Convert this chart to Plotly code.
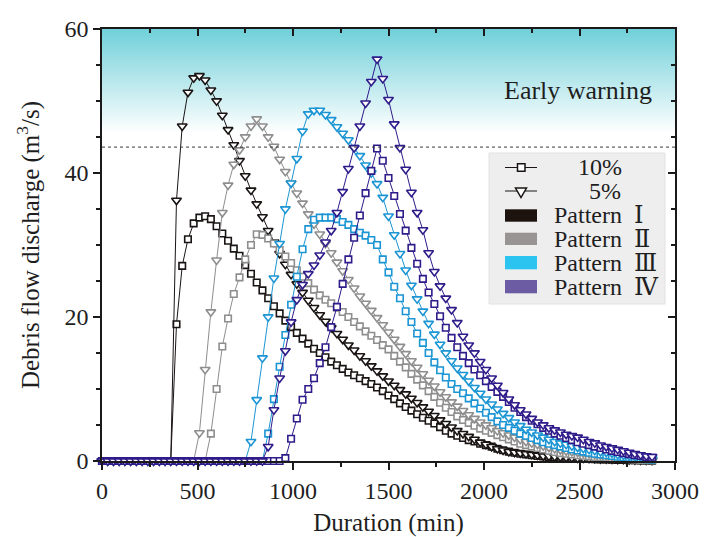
import plotly.graph_objects as go

# ---------------- data ----------------
duration_min = [0, 30, 60, 90, 120, 150, 180, 210, 240, 270, 300, 330, 360, 390, 420, 450, 480, 510, 540, 570,
                600, 630, 660, 690, 720, 750, 780, 810, 840, 870, 900, 930, 960, 990, 1020, 1050, 1080, 1110,
                1140, 1170, 1200, 1230, 1260, 1290, 1320, 1350, 1380, 1410, 1440, 1470, 1500, 1530, 1560, 1590,
                1620, 1650, 1680, 1710, 1740, 1770, 1800, 1830, 1860, 1890, 1920, 1950, 1980, 2010, 2040, 2070,
                2100, 2130, 2160, 2190, 2220, 2250, 2280, 2310, 2340, 2370, 2400, 2430, 2460, 2490, 2520, 2550,
                2580, 2610, 2640, 2670, 2700, 2730, 2760, 2790, 2820, 2850, 2880]

p1_10 = [0, 0, 0, 0, 0, 0, 0, 0, 0, 0, 0, 0, 0,
         19.0, 27.1, 30.8, 33.0, 33.8, 34.0, 33.6, 32.6, 31.6, 30.6, 29.5, 28.5, 27.2, 26.0, 24.8, 23.7,
         22.6, 21.5, 20.5, 19.5, 18.6, 17.8, 17.0, 16.3, 15.6, 15.0, 14.4, 13.8, 13.3, 12.8, 12.3, 11.9,
         11.5, 11.1, 10.7, 10.2, 9.7, 9.1, 8.6, 8.0, 7.5, 7.0, 6.5, 6.0, 5.6, 5.2, 4.7, 4.2, 3.8, 3.5, 3.2,
         2.9, 2.7, 2.4, 2.2, 2.0, 1.7, 1.5, 1.3, 1.15, 1.0, 0.9, 0.8, 0.7, 0.62, 0.55, 0.5, 0.45, 0.4, 0.36,
         0.33, 0.3, 0.27, 0.25, 0.22, 0.2, 0.18, 0.16, 0.14, 0.12, 0.1, 0.08, 0.06, 0.05]
p1_5 = [0, 0, 0, 0, 0, 0, 0, 0, 0, 0, 0, 0, 0,
        36.2, 46.5, 51.2, 53.2, 53.5, 52.9, 51.5, 50.0, 48.0, 46.0, 43.9, 41.7, 39.6, 37.6, 35.7, 33.9,
        32.0, 30.4, 28.8, 27.3, 25.9, 24.6, 23.4, 22.3, 21.3, 20.3, 19.4, 18.5, 17.7, 16.9, 16.1, 15.4,
        14.6, 13.9, 13.2, 12.5, 11.8, 11.1, 10.5, 9.9, 9.3, 8.7, 8.1, 7.5, 6.9, 6.3, 5.7, 5.2, 4.7, 4.2,
        3.8, 3.4, 3.0, 2.6, 2.3, 2.0, 1.7, 1.5, 1.3, 1.2, 1.1, 1.0, 0.9, 0.8, 0.7, 0.65, 0.6, 0.55, 0.5,
        0.45, 0.4, 0.38, 0.35, 0.32, 0.3, 0.27, 0.25, 0.22, 0.2, 0.18, 0.15, 0.12, 0.1, 0.08]
p2_10 = [0, 0, 0, 0, 0, 0, 0, 0, 0, 0, 0, 0, 0, 0, 0, 0, 0, 0, 0,
         3.8, 10.0, 15.9, 19.8, 23.2, 25.5, 28.0, 30.0, 31.5, 31.4, 30.9, 30.2, 29.3, 28.4, 27.5, 26.5,
         25.6, 24.7, 23.8, 23.0, 22.4, 21.9, 21.3, 20.7, 20.0, 19.3, 18.7, 18.0, 17.4, 16.8, 16.1, 15.5,
         14.6, 13.8, 13.0, 12.1, 11.3, 10.5, 9.7, 8.9, 8.1, 7.4, 6.8, 6.2, 5.7, 5.3, 4.9, 4.5, 4.2, 3.9,
         3.6, 3.3, 3.0, 2.7, 2.4, 2.2, 2.0, 1.8, 1.6, 1.4, 1.25, 1.1, 1.0, 0.9, 0.8, 0.72, 0.64, 0.56, 0.5,
         0.44, 0.38, 0.33, 0.28, 0.24, 0.2, 0.16, 0.13, 0.1]
p2_5 = [0, 0, 0, 0, 0, 0, 0, 0, 0, 0, 0, 0, 0, 0, 0, 0, 0,
        3.9, 12.7, 20.7, 27.9, 34.5, 38.3, 41.2, 43.2, 45.0, 46.5, 47.5, 46.5, 45.0, 43.7, 41.9, 40.2,
        38.6, 37.2, 35.8, 34.3, 32.9, 31.5, 30.2, 28.9, 27.6, 26.4, 25.2, 24.0, 22.9, 21.9, 20.9, 19.9,
        18.9, 17.9, 16.9, 15.9, 14.9, 13.9, 13.0, 12.1, 11.2, 10.4, 9.6, 8.9, 8.2, 7.6, 7.0, 6.4, 5.9, 5.4,
        5.0, 4.6, 4.2, 3.9, 3.6, 3.3, 3.0, 2.7, 2.5, 2.3, 2.1, 1.9, 1.7, 1.55, 1.4, 1.3, 1.2, 1.1, 1.0, 0.9,
        0.8, 0.7, 0.6, 0.5, 0.45, 0.4, 0.35, 0.3, 0.25, 0.2]
p3_10 = [0, 0, 0, 0, 0, 0, 0, 0, 0, 0, 0, 0, 0, 0, 0, 0, 0, 0, 0, 0, 0, 0, 0, 0, 0, 0, 0, 0, 0,
         3.8, 8.6, 13.1, 17.5, 21.7, 25.6, 29.4, 32.2, 33.5, 33.8, 33.8, 33.8, 33.6, 33.2, 32.8, 32.2,
         31.7, 31.3, 30.7, 30.0, 28.0, 26.2, 24.2, 22.6, 20.8, 19.3, 17.7, 16.4, 15.0, 13.7, 12.6, 11.6,
         10.7, 10.0, 9.4, 8.7, 8.0, 7.3, 6.7, 6.1, 5.5, 5.0, 4.6, 4.2, 3.8, 3.5, 3.2, 2.9, 2.6, 2.4, 2.2,
         2.0, 1.8, 1.6, 1.45, 1.3, 1.15, 1.0, 0.9, 0.8, 0.7, 0.6, 0.5, 0.45, 0.4, 0.3, 0.25, 0.2]
p3_5 = [0, 0, 0, 0, 0, 0, 0, 0, 0, 0, 0, 0, 0, 0, 0, 0, 0, 0, 0, 0, 0, 0, 0, 0, 0, 0,
        2.7, 8.5, 14.3, 20.0, 25.4, 30.2, 35.0, 38.6, 42.0, 45.8, 48.2, 48.7, 48.7, 48.1, 47.4, 46.4,
        45.5, 44.6, 43.5, 42.4, 41.1, 40.0, 38.5, 36.6, 34.0, 31.4, 28.8, 26.5, 24.4, 22.5, 20.8, 19.1,
        17.6, 16.2, 15.0, 13.9, 12.9, 12.0, 11.1, 10.2, 9.4, 8.6, 7.9, 7.2, 6.6, 6.0, 5.4, 4.9, 4.4, 4.0,
        3.6, 3.3, 3.0, 2.7, 2.5, 2.3, 2.1, 1.9, 1.75, 1.6, 1.45, 1.3, 1.2, 1.1, 0.9, 0.8, 0.7, 0.6, 0.5,
        0.4, 0.3]
p4_10 = [0, 0, 0, 0, 0, 0, 0, 0, 0, 0, 0, 0, 0, 0, 0, 0, 0, 0, 0, 0, 0, 0, 0, 0, 0, 0, 0, 0, 0, 0, 0, 0,
         0.4, 3.1, 5.9, 8.5, 10.0, 11.5, 13.6, 15.8, 18.6, 21.4, 24.6, 28.0, 31.0, 34.1, 37.2, 40.3, 43.4,
         41.7, 39.3, 36.8, 34.3, 32.0, 29.6, 27.4, 25.3, 23.4, 21.8, 20.1, 18.5, 17.1, 15.8, 14.6, 13.6,
         12.7, 11.9, 11.1, 10.3, 9.6, 8.9, 8.2, 7.4, 6.8, 6.1, 5.6, 5.1, 4.6, 4.2, 3.8, 3.5, 3.2, 2.9, 2.6,
         2.4, 2.2, 2.0, 1.8, 1.6, 1.4, 1.25, 1.1, 0.95, 0.8, 0.7, 0.55, 0.45]
p4_5 = [0, 0, 0, 0, 0, 0, 0, 0, 0, 0, 0, 0, 0, 0, 0, 0, 0, 0, 0, 0, 0, 0, 0, 0, 0, 0, 0, 0, 0,
        2.0, 7.1, 11.5, 15.3, 19.3, 22.4, 24.5, 26.0, 27.2, 28.6, 30.4, 32.0, 34.5, 37.4, 40.6, 43.5,
        46.5, 49.7, 52.7, 55.8, 53.1, 50.2, 46.8, 43.5, 40.5, 37.3, 34.5, 32.1, 28.9, 26.3, 24.3, 22.6,
        21.0, 19.2, 17.3, 16.1, 15.0, 13.8, 12.7, 11.5, 10.5, 9.5, 8.6, 7.8, 7.1, 6.5, 5.9, 5.4, 5.0, 4.6,
        4.3, 4.0, 3.7, 3.5, 3.3, 3.0, 2.7, 2.5, 2.2, 2.0, 1.8, 1.6, 1.4, 1.2, 1.0, 0.85, 0.7, 0.6]

for arr in (p1_10, p1_5, p2_10, p2_5, p3_10, p3_5, p4_10, p4_5):
    assert len(arr) == len(duration_min), len(arr)

warning_level = 43.6
x_ticks = [0, 500, 1000, 1500, 2000, 2500, 3000]
y_ticks = [0, 20, 40, 60]
pattern_names = ["Pattern \u2160", "Pattern \u2161", "Pattern \u2162", "Pattern \u2163"]
freq_names = ["10%", "5%"]

# ---------------- styles ----------------
line_colors = ["#1a1414", "#8e8e8e", "#1b95d3", "#2f1b8a"]
swatch_colors = ["#1c130f", "#999494", "#2bc4f0", "#6c5ca4"]
FONT = "Liberation Serif, DejaVu Serif, serif"
TXT = "#1e1e1e"

fig = go.Figure()

# gradient "early warning" zone
fig.add_trace(go.Scatter(
    x=[0, 3000, 3000, 0, 0], y=[warning_level, warning_level, 60, 60, warning_level],
    mode="none", fill="toself",
    fillgradient=dict(type="vertical", start=warning_level, stop=60,
                      colorscale=[[0, "#ffffff"], [0.12, "#ffffff"], [1, "#70d0d9"]]),
    hoverinfo="skip", showlegend=False))

series = [(p1_10, p1_5), (p2_10, p2_5), (p3_10, p3_5), (p4_10, p4_5)]
for (s10, s5), col in zip(series, line_colors):
    fig.add_trace(go.Scatter(
        x=duration_min, y=s10, mode="lines+markers", cliponaxis=False, showlegend=False,
        line=dict(color=col, width=1),
        marker=dict(symbol="square", size=6.5, color="white", line=dict(color=col, width=1.6))))
    fig.add_trace(go.Scatter(
        x=duration_min, y=s5, mode="lines+markers", cliponaxis=False, showlegend=False,
        line=dict(color=col, width=1),
        marker=dict(symbol="triangle-down", size=8.5, color="white", line=dict(color=col, width=1.6))))

# dummy trace for the mirrored (top/right) axes
fig.add_trace(go.Scatter(x=[None], y=[None], xaxis="x2", yaxis="y2", showlegend=False, hoverinfo="skip"))

# ---------------- layout ----------------
L, R, T, B = 102, 675, 29, 461
W, H = 707, 537


def px(x):
    return (x - L) / (R - L)


def py(y):
    return (B - y) / (B - T)


axis_common = dict(showline=True, linecolor="#1a1a1a", linewidth=1.5, showgrid=False, zeroline=False,
                   tickcolor="#1a1a1a", tickwidth=1.5, automargin=False)

fig.update_layout(
    width=W, height=H, margin=dict(l=L, r=W - R, t=T, b=H - B, autoexpand=False),
    paper_bgcolor="white", plot_bgcolor="white",
    font=dict(family=FONT, color=TXT),
    showlegend=False,
    xaxis=dict(range=[0, 3000], tickvals=x_ticks, ticks="outside", ticklen=7,
               minor=dict(ticks="outside", ticklen=4, dtick=250, tickcolor="#1a1a1a", tickwidth=1.5),
               tickfont=dict(size=24, family=FONT, color=TXT),
               title=dict(text="Duration (min)", font=dict(size=25, family=FONT, color=TXT), standoff=13),
               **axis_common),
    yaxis=dict(range=[0, 60], tickvals=y_ticks, ticks="outside", ticklen=7,
               minor=dict(ticks="outside", ticklen=4, dtick=5, tickcolor="#1a1a1a", tickwidth=1.5),
               tickfont=dict(size=24, family=FONT, color=TXT),
               title=dict(text="Debris flow discharge (m<sup>3</sup>/s)",
                          font=dict(size=25, family=FONT, color=TXT), standoff=18),
               **axis_common),
    xaxis2=dict(range=[0, 3000], overlaying="x", side="top", tickvals=x_ticks, ticks="inside", ticklen=7,
                minor=dict(ticks="inside", ticklen=4, dtick=250, tickcolor="#1a1a1a", tickwidth=1.5),
                showticklabels=False, **axis_common),
    yaxis2=dict(range=[0, 60], overlaying="y", side="right", tickvals=y_ticks, ticks="inside", ticklen=7,
                minor=dict(ticks="inside", ticklen=4, dtick=5, tickcolor="#1a1a1a", tickwidth=1.5),
                showticklabels=False, **axis_common),
)

shapes = []
annotations = []
# threshold line
shapes.append(dict(type="line", xref="x", yref="y", x0=0, x1=3000, y0=warning_level, y1=warning_level,
                   line=dict(color="#3a3a3a", width=1, dash="dot"), layer="above"))
annotations.append(dict(text="Early warning", xref="paper", yref="paper", x=px(578), y=py(90),
                        xanchor="center", yanchor="middle", showarrow=False,
                        font=dict(size=26, family=FONT, color=TXT)))

# custom legend box
shapes.append(dict(type="rect", xref="paper", yref="paper", x0=px(489), x1=px(665), y0=py(304), y1=py(153),
                   fillcolor="#eeeeee", line=dict(color="#e2e2e2", width=1), layer="above"))
# 10% entry
shapes.append(dict(type="line", xref="paper", yref="paper", x0=px(505), x1=px(537), y0=py(167.5), y1=py(167.5),
                   line=dict(color="#1a1414", width=1), layer="above"))
shapes.append(dict(type="rect", xref="paper", yref="paper", x0=px(517.5), x1=px(525), y0=py(171.3), y1=py(163.8),
                   fillcolor="white", line=dict(color="#1a1414", width=1.5), layer="above"))
# 5% entry
shapes.append(dict(type="line", xref="paper", yref="paper", x0=px(505), x1=px(537), y0=py(191), y1=py(191),
                   line=dict(color="#1a1414", width=1), layer="above"))
tri = "M {:.5f},{:.5f} L {:.5f},{:.5f} L {:.5f},{:.5f} Z".format(px(515.5), py(188), px(526.5), py(188),
                                                                   px(521), py(197.5))
shapes.append(dict(type="path", xref="paper", yref="paper", path=tri, fillcolor="white",
                   line=dict(color="#1a1414", width=1.5), layer="above"))

LEG_FONT = dict(size=24, family=FONT, color=TXT)
annotations.append(dict(text=freq_names[0], xref="paper", yref="paper", x=px(577), y=py(167),
                        xanchor="left", yanchor="middle", showarrow=False, height=20, borderpad=0,
                        font=LEG_FONT))
annotations.append(dict(text=freq_names[1], xref="paper", yref="paper", x=px(588), y=py(191),
                        xanchor="left", yanchor="middle", showarrow=False, height=20, borderpad=0,
                        font=LEG_FONT))
swatch_y = [(209.3, 221.7), (232.7, 245.0), (256.0, 269.3), (280.0, 293.3)]
text_y = [215.0, 239.0, 263.0, 287.0]
for name, col, (ya, yb), ty in zip(pattern_names, swatch_colors, swatch_y, text_y):
    shapes.append(dict(type="rect", xref="paper", yref="paper", x0=px(505), x1=px(537), y0=py(yb), y1=py(ya),
                       fillcolor=col, line=dict(width=0), layer="above"))
    annotations.append(dict(text=name.replace(" ", "\u2002"), xref="paper", yref="paper", x=px(553),
                            y=py(ty), xanchor="left", yanchor="middle", showarrow=False,
                            height=20, borderpad=0, font=LEG_FONT))

fig.update_layout(shapes=shapes, annotations=annotations)
fig.write_html("out.html")
